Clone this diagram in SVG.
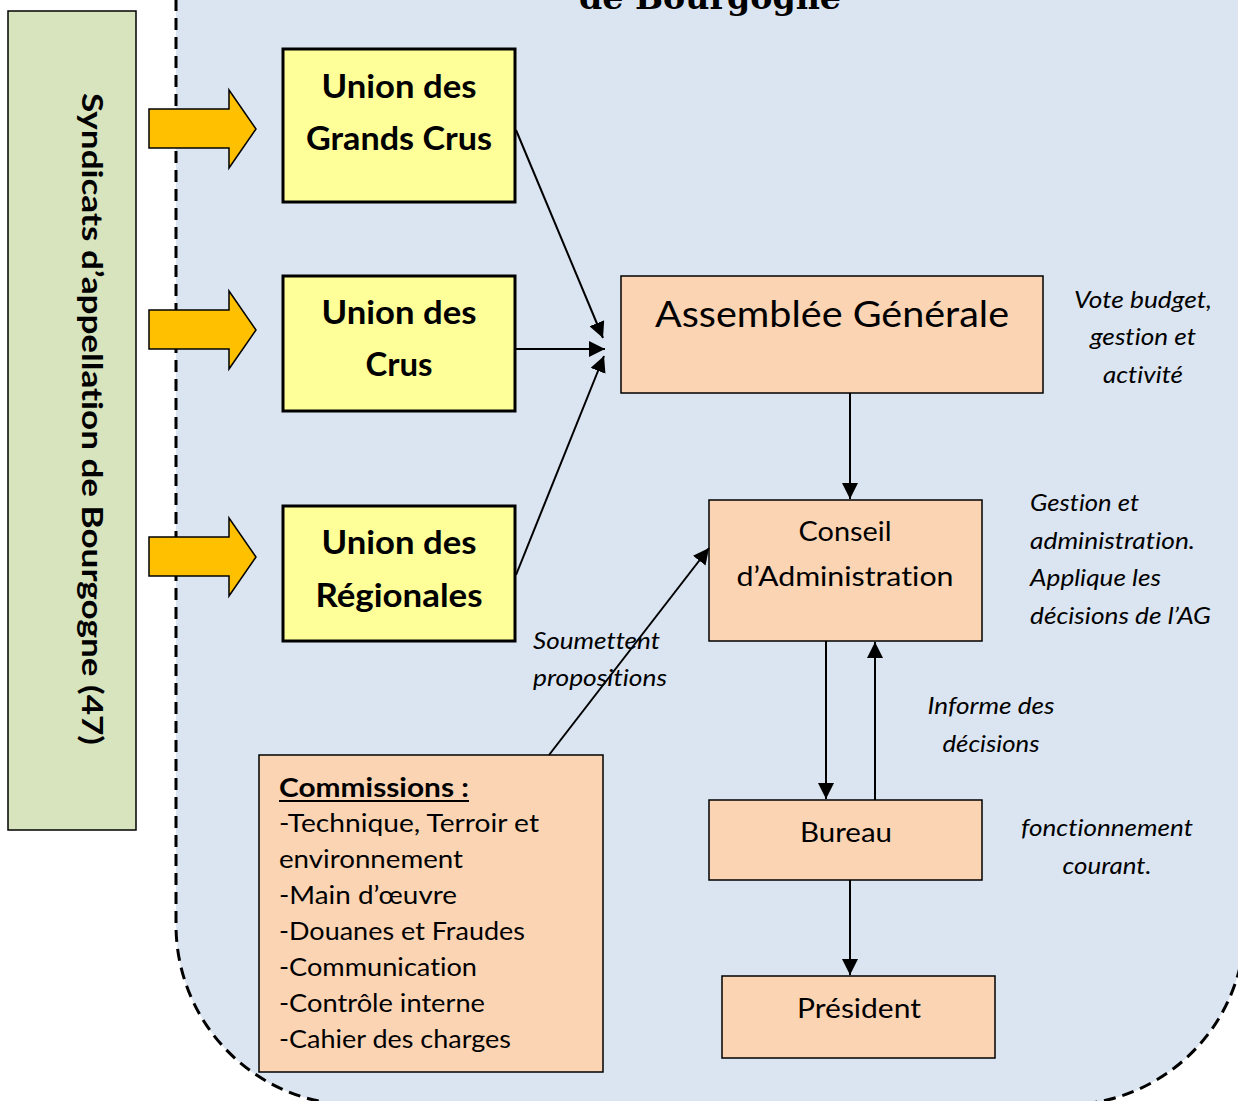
<svg xmlns="http://www.w3.org/2000/svg" width="1238" height="1101" viewBox="0 0 1238 1101">
<style>
.t{font-family:Lato,"Open Sans","Liberation Sans",sans-serif;fill:#000;font-variant-ligatures:none;font-feature-settings:"liga" 0}
.b{font-weight:bold}
.i{font-style:italic}
.yel{fill:#ffff99;stroke:#000;stroke-width:3}
.pch{fill:#fbd4b4;stroke:#000;stroke-width:1.5}
.arr{fill:#ffc000;stroke:#000;stroke-width:1.5}
.con{fill:none;stroke:#000;stroke-width:2}
</style>
<defs>
<marker id="ah" viewBox="0 0 10 10" refX="10" refY="5" markerWidth="8" markerHeight="8" orient="auto" markerUnits="strokeWidth">
<path d="M0,0 L10,5 L0,10 z" fill="#000"/>
</marker>
</defs>
<rect width="1238" height="1101" fill="#fff"/>
<g id="background">
<path d="M176,-20 L176,925 A180,180 0 0 0 356,1105 L1065,1105 A180,180 0 0 0 1245,925 L1245,-20 Z" fill="#dbe5f1" stroke="#000" stroke-width="3" stroke-dasharray="12,7"/>
<text class="b" x="710" y="9" text-anchor="middle" font-family="'DejaVu Serif','Liberation Serif',serif" font-size="34" textLength="262" lengthAdjust="spacingAndGlyphs">de Bourgogne</text>
</g>
<g id="syndicats">
<rect x="8" y="11" width="128" height="819" fill="#d7e4bd" stroke="#000" stroke-width="1.5"/>
<text class="t b" transform="translate(82,419) rotate(90)" text-anchor="middle" font-size="28" textLength="652" lengthAdjust="spacingAndGlyphs">Syndicats d’appellation de Bourgogne (47)</text>
</g>
<g id="fleches">
<path class="arr" d="M149,109 L229,109 L229,90 L256,129 L229,168 L229,148 L149,148 Z"/>
<path class="arr" d="M149,310 L229,310 L229,291 L256,330 L229,369 L229,349 L149,349 Z"/>
<path class="arr" d="M149,537 L229,537 L229,518 L256,557 L229,596 L229,576 L149,576 Z"/>
</g>
<g id="union-grands-crus">
<rect class="yel" x="283" y="49" width="232" height="153"/>
<text class="t b" x="399" y="98" text-anchor="middle" font-size="32" textLength="155" lengthAdjust="spacingAndGlyphs">Union des</text>
<text class="t b" x="399" y="150" text-anchor="middle" font-size="32" textLength="186" lengthAdjust="spacingAndGlyphs">Grands Crus</text>
</g>
<g id="union-crus">
<rect class="yel" x="283" y="276" width="232" height="135"/>
<text class="t b" x="399" y="324" text-anchor="middle" font-size="32" textLength="155" lengthAdjust="spacingAndGlyphs">Union des</text>
<text class="t b" x="399" y="376" text-anchor="middle" font-size="32" textLength="67" lengthAdjust="spacingAndGlyphs">Crus</text>
</g>
<g id="union-regionales">
<rect class="yel" x="283" y="506" width="232" height="135"/>
<text class="t b" x="399" y="554" text-anchor="middle" font-size="32" textLength="155" lengthAdjust="spacingAndGlyphs">Union des</text>
<text class="t b" x="399" y="607" text-anchor="middle" font-size="32" textLength="167" lengthAdjust="spacingAndGlyphs">Régionales</text>
</g>
<g id="assemblee">
<rect class="pch" x="621" y="276" width="422" height="117"/>
<text class="t" x="832" y="327" text-anchor="middle" font-size="36" textLength="354" lengthAdjust="spacingAndGlyphs">Assemblée Générale</text>
</g>
<g id="conseil">
<rect class="pch" x="709" y="500" width="273" height="141"/>
<text class="t" x="845" y="541" text-anchor="middle" font-size="27" textLength="93" lengthAdjust="spacingAndGlyphs">Conseil</text>
<text class="t" x="845" y="586" text-anchor="middle" font-size="27" textLength="217" lengthAdjust="spacingAndGlyphs">d’Administration</text>
</g>
<g id="bureau">
<rect class="pch" x="709" y="800" width="273" height="80"/>
<text class="t" x="846" y="842" text-anchor="middle" font-size="27" textLength="92" lengthAdjust="spacingAndGlyphs">Bureau</text>
</g>
<g id="president">
<rect class="pch" x="722" y="976" width="273" height="82"/>
<text class="t" x="859" y="1018" text-anchor="middle" font-size="27" textLength="124" lengthAdjust="spacingAndGlyphs">Président</text>
</g>
<g id="commissions">
<rect class="pch" x="259" y="755" width="344" height="317"/>
<text class="t b" x="279" y="797" font-size="26" textLength="190" lengthAdjust="spacingAndGlyphs">Commissions :</text>
<line x1="279" y1="801" x2="469" y2="801" stroke="#000" stroke-width="2"/>
<g class="t" font-size="25">
<text x="279" y="832" textLength="260" lengthAdjust="spacingAndGlyphs">-Technique, Terroir et</text>
<text x="279" y="868" textLength="184" lengthAdjust="spacingAndGlyphs">environnement</text>
<text x="279" y="904" textLength="178" lengthAdjust="spacingAndGlyphs">-Main d’œuvre</text>
<text x="279" y="940" textLength="246" lengthAdjust="spacingAndGlyphs">-Douanes et Fraudes</text>
<text x="279" y="976" textLength="198" lengthAdjust="spacingAndGlyphs">-Communication</text>
<text x="279" y="1012" textLength="206" lengthAdjust="spacingAndGlyphs">-Contrôle interne</text>
<text x="279" y="1048" textLength="232" lengthAdjust="spacingAndGlyphs">-Cahier des charges</text>
</g>
</g>
<g id="connecteurs">
<line class="con" x1="516" y1="130" x2="603" y2="338" marker-end="url(#ah)"/>
<line class="con" x1="516" y1="349" x2="605" y2="349" marker-end="url(#ah)"/>
<line class="con" x1="516" y1="575" x2="604" y2="356" marker-end="url(#ah)"/>
<line class="con" x1="850" y1="393" x2="850" y2="499" marker-end="url(#ah)"/>
<line class="con" x1="826" y1="641" x2="826" y2="799" marker-end="url(#ah)"/>
<line class="con" x1="875" y1="800" x2="875" y2="642" marker-end="url(#ah)"/>
<line class="con" x1="850" y1="880" x2="850" y2="975" marker-end="url(#ah)"/>
<line class="con" x1="549" y1="755" x2="709" y2="548" marker-end="url(#ah)"/>
</g>
<g id="labels" class="t i" font-size="23">
<text x="1143" y="308" text-anchor="middle" textLength="138" lengthAdjust="spacingAndGlyphs">Vote budget,</text>
<text x="1143" y="345" text-anchor="middle" textLength="106" lengthAdjust="spacingAndGlyphs">gestion et</text>
<text x="1143" y="383" text-anchor="middle" textLength="80" lengthAdjust="spacingAndGlyphs">activité</text>
<text x="1030" y="511" textLength="109" lengthAdjust="spacingAndGlyphs">Gestion et</text>
<text x="1030" y="549" textLength="165" lengthAdjust="spacingAndGlyphs">administration.</text>
<text x="1030" y="586" textLength="131" lengthAdjust="spacingAndGlyphs">Applique les</text>
<text x="1030" y="624" textLength="181" lengthAdjust="spacingAndGlyphs">décisions de l’AG</text>
<text x="991" y="714" text-anchor="middle" textLength="127" lengthAdjust="spacingAndGlyphs">Informe des</text>
<text x="991" y="752" text-anchor="middle" textLength="97" lengthAdjust="spacingAndGlyphs">décisions</text>
<text x="1107" y="836" text-anchor="middle" textLength="172" lengthAdjust="spacingAndGlyphs">fonctionnement</text>
<text x="1107" y="874" text-anchor="middle" textLength="89" lengthAdjust="spacingAndGlyphs">courant.</text>
<text x="533" y="649" textLength="127" lengthAdjust="spacingAndGlyphs">Soumettent</text>
<text x="533" y="686" textLength="134" lengthAdjust="spacingAndGlyphs">propositions</text>
</g>
</svg>
